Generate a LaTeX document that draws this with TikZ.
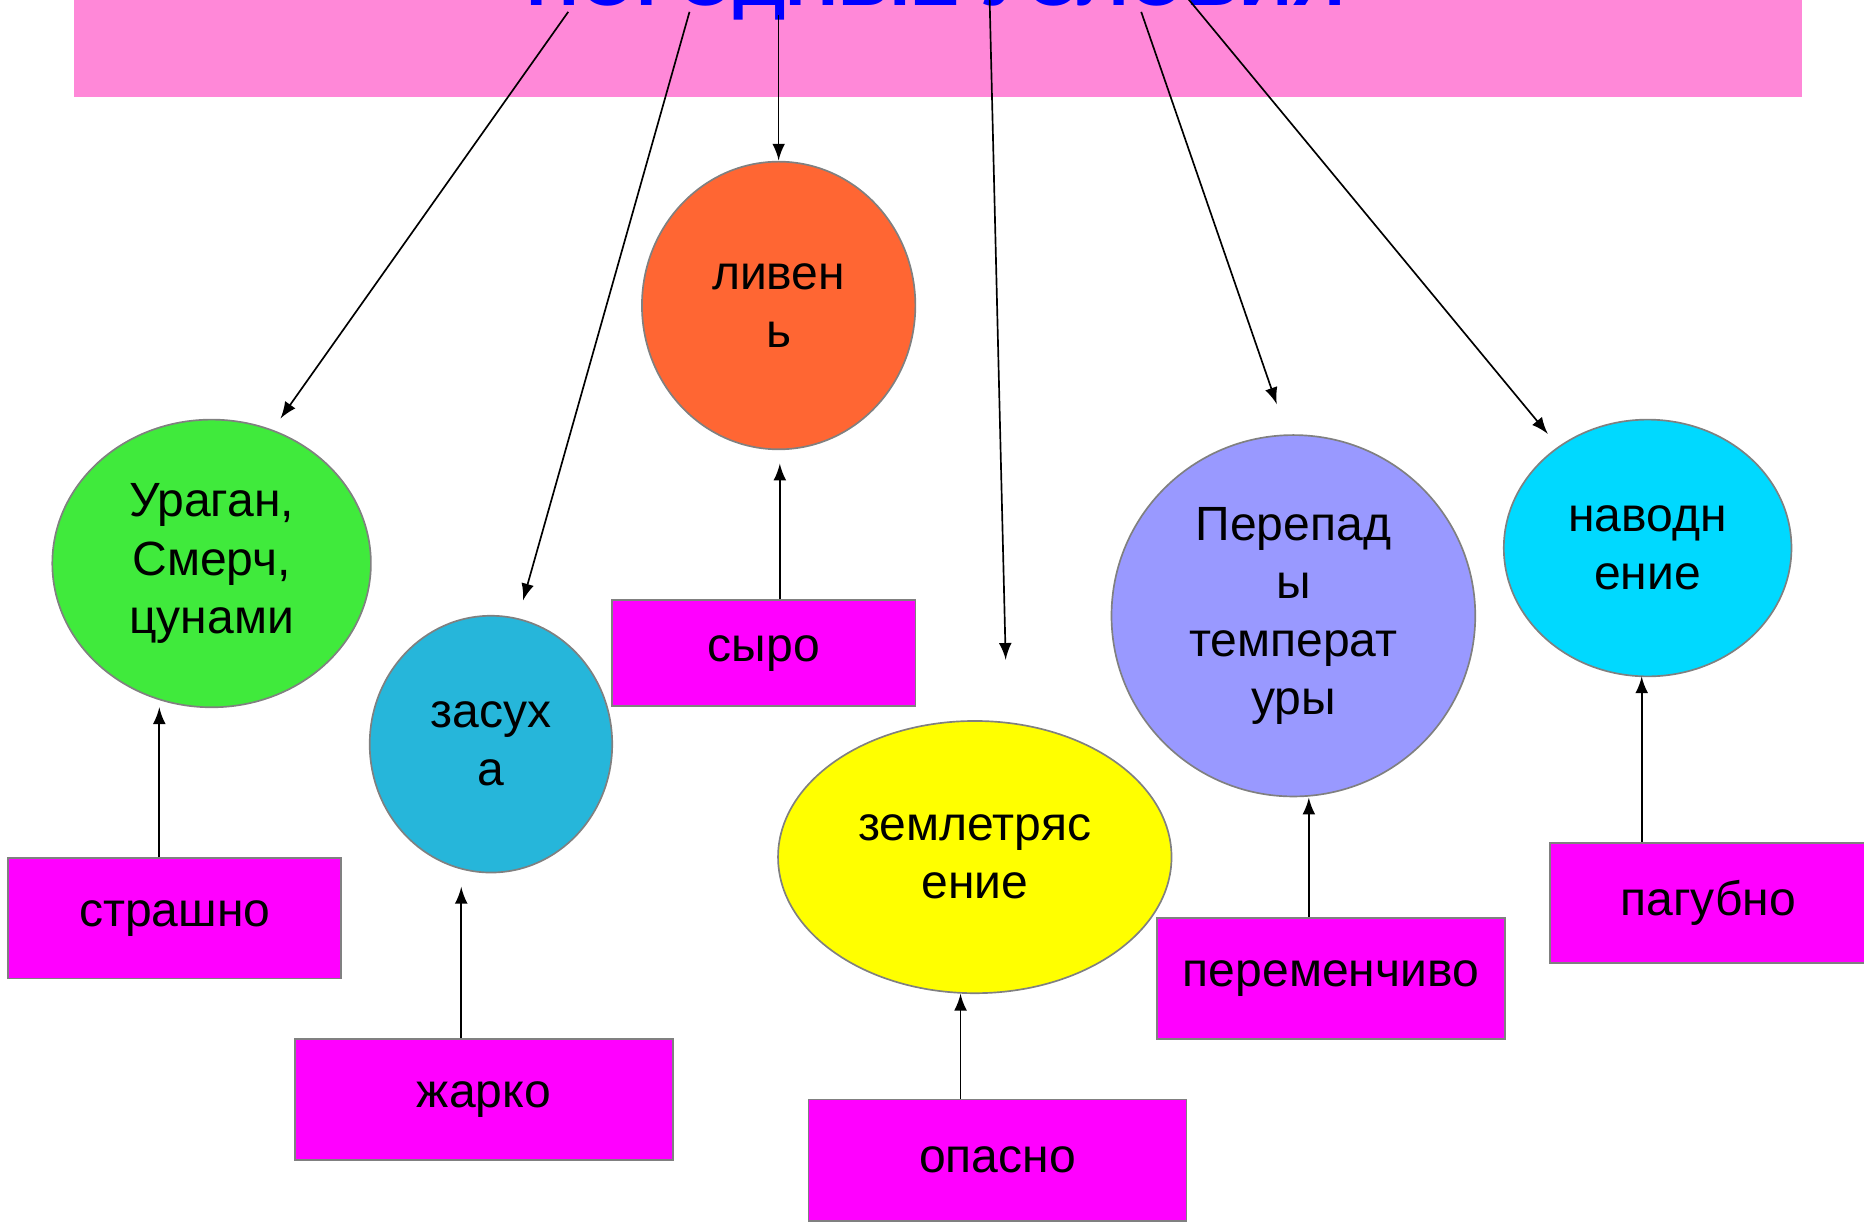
\documentclass[tikz,border=0pt]{standalone}
\usepackage{fontspec}
\setmainfont{Liberation Sans}
\usetikzlibrary{shapes.geometric}
\definecolor{bandpink}{RGB}{255,136,216}
\definecolor{titleblue}{RGB}{0,0,255}
\definecolor{greenball}{RGB}{64,234,60}
\definecolor{blueball}{RGB}{38,182,218}
\definecolor{orangeball}{RGB}{255,102,51}
\definecolor{yellowball}{RGB}{255,255,0}
\definecolor{violetball}{RGB}{153,153,255}
\definecolor{cyanball}{RGB}{0,217,255}
\definecolor{wordbox}{RGB}{255,0,255}
\definecolor{rimgray}{RGB}{128,128,128}
\tikzset{
    ball/.style={ellipse, draw=rimgray, inner sep=0pt, align=center,
        font=\fontsize{11.5}{13.9}\selectfont},
    word/.style={rectangle, draw=rimgray, fill=wordbox, inner sep=0pt,
        font=\fontsize{11.5}{13.9}\selectfont},
    link/.style={thin, -latex}
}
\begin{document}
\begin{tikzpicture}[x=0.1mm, y=-0.1mm]
    \useasboundingbox (0, 0) rectangle (1568, 1028);
    \clip (0, 0) rectangle (1568, 1028);
    % title band
    \fill [bandpink] (62, -20) rectangle (1516, 82);
    \node [anchor=base, text=titleblue, inner sep=0pt,
        font=\fontsize{17.6}{20}\selectfont\bfseries] (title) at (787, 5) {ПОГОДНЫЕ УСЛОВИЯ};
    % circles
    \node [ball, fill=greenball, minimum width=2.68cm, minimum height=2.42cm] (uragan) at (178, 474) {Ураган,\\Смерч,\\цунами};
    \node [ball, fill=blueball, minimum width=2.04cm, minimum height=2.16cm] (zasuha) at (413, 626) {засух\\а};
    \node [ball, fill=orangeball, minimum width=2.30cm, minimum height=2.42cm] (liven) at (655, 257) {ливен\\ь};
    \node [ball, fill=yellowball, minimum width=3.31cm, minimum height=2.29cm] (zemlya) at (820, 721) {землетряс\\ение};
    \node [ball, fill=violetball, minimum width=3.06cm, minimum height=3.04cm] (perepad) at (1088, 518) {Перепад\\ы\\температ\\уры};
    \node [ball, fill=cyanball, minimum width=2.42cm, minimum height=2.16cm] (navod) at (1386, 461) {наводн\\ение};
    % word boxes
    \node [word, minimum width=2.80cm, minimum height=1.01cm] (strashno) at (147, 772.5) {страшно};
    \node [word, minimum width=3.18cm, minimum height=1.02cm] (zharko) at (407, 925) {жарко};
    \node [word, minimum width=2.55cm, minimum height=0.89cm] (syro) at (642.5, 549.5) {сыро};
    \node [word, minimum width=3.18cm, minimum height=1.02cm] (opasno) at (839, 976) {опасно};
    \node [word, minimum width=2.93cm, minimum height=1.02cm] (peremen) at (1119.5, 823) {переменчиво};
    \node [word, minimum width=2.66cm, minimum height=1.01cm] (pagubno) at (1437, 759.5) {пагубно};
    % arrow ends
    \coordinate (t1) at (478, 10);
    \coordinate (t2) at (580, 10);
    \coordinate (t3) at (655, 13);
    \coordinate (t4) at (832, -20);
    \coordinate (t5) at (960, 10);
    \coordinate (t6) at (992, -10);
    \coordinate (e1) at (236, 352);
    \coordinate (e2) at (440, 505);
    \coordinate (e3) at (655, 135);
    \coordinate (e4) at (846, 555);
    \coordinate (e5) at (1074, 340);
    \coordinate (e6) at (1302, 365);
    \coordinate (b1) at (134, 595);
    \coordinate (b2) at (388, 746);
    \coordinate (b3) at (656, 390);
    \coordinate (b4) at (808, 836);
    \coordinate (b5) at (1101, 671);
    \coordinate (b6) at (1381, 569);
    % arrows from the title
    \foreach \i in {1,...,6}
        \draw [link] (t\i) -- (e\i);
    % arrows from the boxes
    \draw [link] (strashno.north -| b1) -- (b1);
    \draw [link] (zharko.north -| b2) -- (b2);
    \draw [link] (syro.north -| b3) -- (b3);
    \draw [link] (opasno.north -| b4) -- (b4);
    \draw [link] (peremen.north -| b5) -- (b5);
    \draw [link] (pagubno.north -| b6) -- (b6);
\end{tikzpicture}
\end{document}
